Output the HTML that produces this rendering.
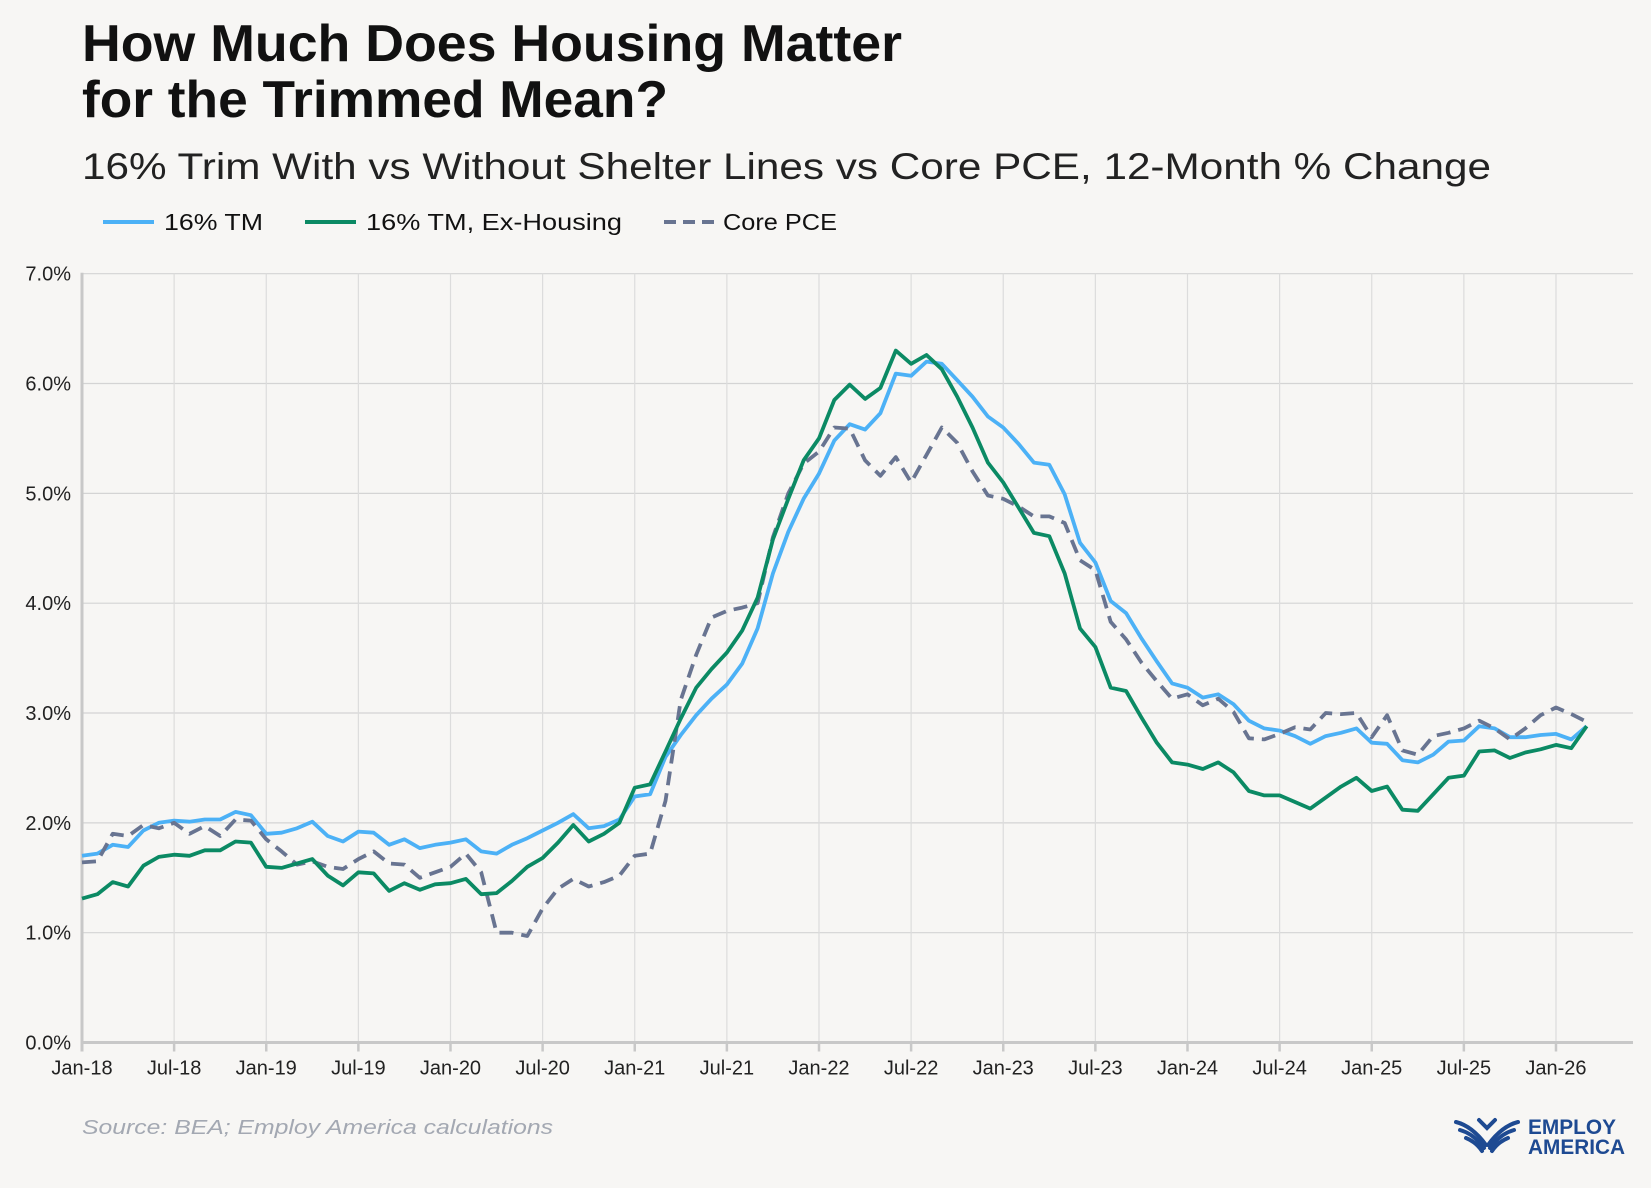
<!DOCTYPE html>
<html><head><meta charset="utf-8"><style>
html,body{margin:0;padding:0;background:#f7f6f4;}
svg{display:block;}
text{font-family:"Liberation Sans",sans-serif;}
</style></head><body>
<svg id="chart" width="1651" height="1188" viewBox="0 0 1651 1188" xmlns="http://www.w3.org/2000/svg">
<rect width="1651" height="1188" fill="#f7f6f4"/>
<text x="82" y="61" font-size="52" font-weight="bold" fill="#111" textLength="820" lengthAdjust="spacingAndGlyphs">How Much Does Housing Matter</text>
<text x="82" y="117" font-size="52" font-weight="bold" fill="#111" textLength="586" lengthAdjust="spacingAndGlyphs">for the Trimmed Mean?</text>
<text x="82" y="179" font-size="37" fill="#222" textLength="1409" lengthAdjust="spacingAndGlyphs">16% Trim With vs Without Shelter Lines vs Core PCE, 12-Month % Change</text>
<g>
 <g>
  <line x1="103" y1="222" x2="154" y2="222" stroke="#4cb1f6" stroke-width="4"/>
  <text x="164" y="230" font-size="23" fill="#111" textLength="99" lengthAdjust="spacingAndGlyphs">16% TM</text>
 </g>
 <g>
  <line x1="305" y1="222" x2="356" y2="222" stroke="#0b8a64" stroke-width="4"/>
  <text x="366" y="230" font-size="23" fill="#111" textLength="256" lengthAdjust="spacingAndGlyphs">16% TM, Ex-Housing</text>
 </g>
 <g>
  <line x1="664" y1="222" x2="715" y2="222" stroke="#687491" stroke-width="4" stroke-dasharray="12,7"/>
  <text x="723" y="230" font-size="23" fill="#111" textLength="114" lengthAdjust="spacingAndGlyphs">Core PCE</text>
 </g>
</g>
<g id="grid"></g>
<g id="axes"></g>
<g id="series"></g>
<text x="82" y="1134" font-size="20" font-style="italic" fill="#a3a8b2" textLength="471" lengthAdjust="spacingAndGlyphs">Source: BEA; Employ America calculations</text>
<g>
 <g fill="none" stroke="#1e4a92" stroke-width="4" stroke-linecap="round">
  <path d="M1456 1122 Q1472 1126 1486 1145"/>
  <path d="M1460 1130 Q1474 1134 1484 1148"/>
  <path d="M1466 1138 Q1476 1142 1482 1151"/>
  <path d="M1518 1122 Q1502 1126 1488 1145"/>
  <path d="M1514 1130 Q1500 1134 1490 1148"/>
  <path d="M1508 1138 Q1498 1142 1492 1151"/>
  <path d="M1479 1120 L1487 1128 L1495 1120"/>
 </g>
 <text x="1528" y="1134" font-size="21" font-weight="bold" fill="#1e4a92" textLength="88" lengthAdjust="spacingAndGlyphs">EMPLOY</text>
 <text x="1528" y="1154" font-size="21" font-weight="bold" fill="#1e4a92" textLength="97" lengthAdjust="spacingAndGlyphs">AMERICA</text>
</g>
</svg>
<script>
const tm = [1.70,1.72,1.80,1.78,1.93,2.00, 2.02,2.01,2.03,2.03,2.10,2.07,
 1.90,1.91,1.95,2.01,1.88,1.83, 1.92,1.91,1.80,1.85,1.77,1.80,
 1.82,1.85,1.74,1.72,1.80,1.86, 1.93,2.00,2.08,1.95,1.97,2.03,
 2.24,2.26,2.60,2.80,2.98,3.13, 3.26,3.45,3.77,4.27,4.65,4.95,
 5.18,5.48,5.63,5.58,5.73,6.09, 6.07,6.20,6.18,6.03,5.88,5.70,
 5.60,5.45,5.28,5.26,4.99,4.55, 4.37,4.02,3.91,3.68,3.47,3.27,
 3.23,3.14,3.17,3.08,2.93,2.86, 2.84,2.79,2.72,2.79,2.82,2.86,
 2.73,2.72,2.57,2.55,2.62,2.74, 2.75,2.88,2.86,2.78,2.78,2.80,
 2.81,2.76,2.88];
const tmExHousing = [1.31,1.35,1.46,1.42,1.61,1.69, 1.71,1.70,1.75,1.75,1.83,1.82,
 1.60,1.59,1.63,1.67,1.52,1.43, 1.55,1.54,1.38,1.45,1.39,1.44,
 1.45,1.49,1.35,1.36,1.47,1.60, 1.68,1.82,1.98,1.83,1.90,2.00,
 2.32,2.35,2.65,2.95,3.23,3.40, 3.55,3.75,4.05,4.58,4.95,5.30,
 5.50,5.85,5.99,5.86,5.96,6.30, 6.18,6.26,6.13,5.88,5.60,5.28,
 5.10,4.87,4.64,4.61,4.27,3.77, 3.60,3.23,3.20,2.96,2.73,2.55,
 2.53,2.49,2.55,2.46,2.29,2.25, 2.25,2.19,2.13,2.23,2.33,2.41,
 2.29,2.33,2.12,2.11,2.26,2.41, 2.43,2.65,2.66,2.59,2.64,2.67,
 2.71,2.68,2.88];
const corePce = [1.64,1.65,1.90,1.88,1.98,1.95, 2.00,1.90,1.97,1.88,2.03,2.02,
 1.85,1.74,1.62,1.65,1.60,1.58, 1.67,1.74,1.63,1.62,1.50,1.55,
 1.60,1.72,1.55,1.00,1.00,0.97, 1.22,1.40,1.49,1.42,1.46,1.52,
 1.70,1.72,2.20,3.12,3.53,3.87, 3.93,3.96,4.00,4.60,5.00,5.27,
 5.38,5.60,5.59,5.30,5.16,5.33, 5.10,5.35,5.60,5.46,5.20,4.98,
 4.95,4.88,4.79,4.79,4.73,4.39, 4.30,3.83,3.67,3.46,3.29,3.13,
 3.17,3.07,3.13,3.01,2.77,2.76, 2.81,2.87,2.85,3.00,2.99,3.00,
 2.78,2.98,2.66,2.62,2.79,2.82, 2.86,2.93,2.86,2.76,2.86,2.98,
 3.05,2.99,2.92];
const xTickLabels = ["Jan-18","Jul-18","Jan-19","Jul-19","Jan-20","Jul-20","Jan-21","Jul-21","Jan-22","Jul-22","Jan-23","Jul-23","Jan-24","Jul-24","Jan-25","Jul-25","Jan-26"];
const yTickLabels = ["0.0%","1.0%","2.0%","3.0%","4.0%","5.0%","6.0%","7.0%"];

const NS="http://www.w3.org/2000/svg";
const X0=82, X1=1633, PX_MONTH=15.354, Y0=1042.5, PX_PCT=109.83;
function xScale(i){return X0+i*PX_MONTH;}
function yScale(v){return Y0-v*PX_PCT;}
function mk(tag,attrs,parent){const e=document.createElementNS(NS,tag);for(const k in attrs)e.setAttribute(k,attrs[k]);parent.appendChild(e);return e;}
const grid=document.getElementById('grid'), axes=document.getElementById('axes'), series=document.getElementById('series');

yTickLabels.forEach((lab,i)=>{
 const y=yScale(i);
 if(i>0){const g=mk('line',{x1:X0,x2:X1,y1:y,y2:y,stroke:'#d4d4d4','stroke-width':1.2},grid);
 
 }
 const t=mk('text',{x:71,y:y+7,'text-anchor':'end','font-size':20,fill:'#222'},axes);
 t.textContent=lab;
 
 
});
xTickLabels.forEach((lab,i)=>{
 const x=xScale(i*6);
 if(i>0){const g=mk('line',{x1:x,x2:x,y1:yScale(7),y2:Y0,stroke:'#dcdcdc','stroke-width':1.2},grid);
 
 }
 const tk=mk('line',{x1:x,x2:x,y1:Y0,y2:Y0+9,stroke:'#c8c8c8','stroke-width':2.5},axes);
 
 
 const t=mk('text',{x:x,y:Y0+32,'text-anchor':'middle','font-size':20,fill:'#222'},axes);
 t.textContent=lab;
 
 
});
const xa=mk('line',{x1:X0-1,x2:X1,y1:Y0,y2:Y0,stroke:'#c8c8c8','stroke-width':3},axes);


const ya=mk('line',{x1:X0,x2:X0,y1:yScale(7)-1,y2:Y0+9,stroke:'#c8c8c8','stroke-width':3},axes);



function line(data,color,dash,name){
 const d=data.map((v,i)=>(i?'L':'M')+xScale(i).toFixed(1)+' '+yScale(v).toFixed(1)).join(' ');
 const p=mk('path',{d:d,fill:'none',stroke:color,'stroke-width':3.8,'stroke-linejoin':'round'},series);
 if(dash)p.setAttribute('stroke-dasharray',dash);
 
 
}
line(tm,'#4cb1f6',null,'line-16-tm');
line(corePce,'#687491','14,8','line-core-pce');
line(tmExHousing,'#0b8a64',null,'line-16-tm-ex-housing');
</script>
</body></html>
